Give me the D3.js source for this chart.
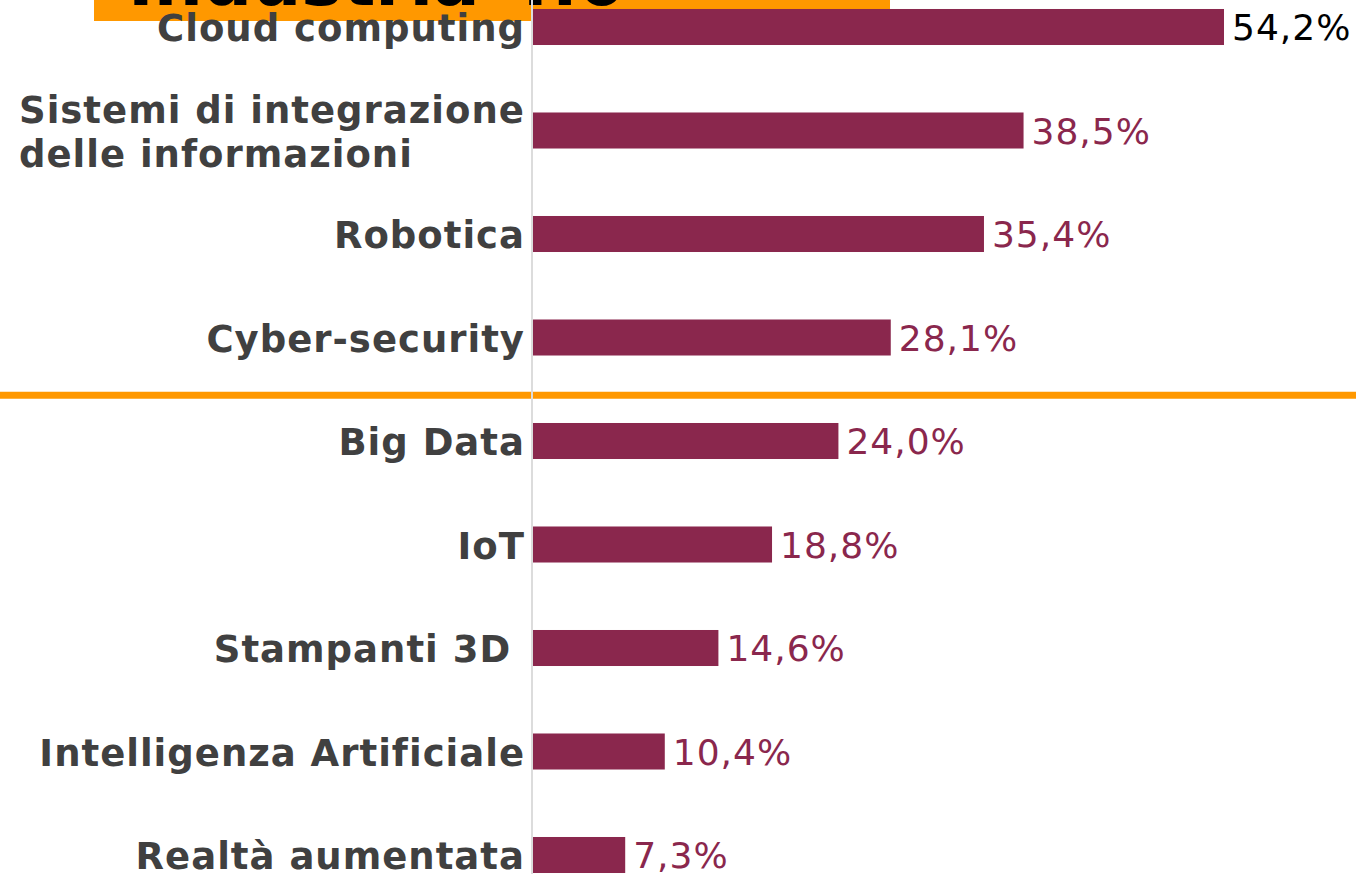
<!DOCTYPE html>
<html>
<head>
<meta charset="utf-8">
<script src="https://cdn.jsdelivr.net/npm/d3@7"></script>
<style>
html, body { margin: 0; padding: 0; background: #fff; overflow: hidden; }
svg { display: block; }
</style>
</head>
<body>
<svg id="chart" width="1356" height="874"></svg>
<script>
// Data
const categories = [
  "Cloud computing",
  "Sistemi di integrazione\ndelle informazioni",
  "Robotica",
  "Cyber-security",
  "Big Data",
  "IoT",
  "Stampanti 3D ",
  "Intelligenza Artificiale",
  "Realtà aumentata"
];
const values = [54.2, 38.5, 35.4, 28.1, 24.0, 18.8, 14.6, 10.4, 7.3];
const valueLabels = ["54,2%", "38,5%", "35,4%", "28,1%", "24,0%", "18,8%", "14,6%", "10,4%", "7,3%"];
const titleText = "Industria 4.0";

const W = 1356, H = 874;
const svg = d3.select("#chart");

const x = d3.scaleLinear().domain([0, 54.2]).range([532, 1224]);
const y = d3.scaleBand().domain(categories)
  .range([-24.75, 906.75]).paddingInner(0.652).paddingOuter(0.326);

// Title box (mostly cropped off the top)
svg.append("rect").attr("x", 94).attr("y", -60).attr("width", 796).attr("height", 81)
  .attr("fill", "#ff9800");
svg.append("text").attr("x", 128).attr("y", 5)
  .attr("font-family", "DejaVu Sans").attr("font-weight", "bold")
  .attr("font-size", 69).attr("fill", "#000").text(titleText);

// Separator line between Cyber-security and Big Data
const sepY = (y(categories[3]) + y.bandwidth() + y(categories[4])) / 2 + 6;
svg.append("line").attr("x1", 0).attr("x2", W).attr("y1", sepY).attr("y2", sepY)
  .attr("stroke", "#ff9800").attr("stroke-width", 7);

// Bars
svg.append("g").selectAll("rect").data(categories).join("rect")
  .attr("x", x(0))
  .attr("y", d => y(d))
  .attr("width", (d, i) => x(values[i]) - x(0))
  .attr("height", y.bandwidth())
  .attr("fill", "#8a274d");

// Axis line
svg.append("line").attr("x1", x(0)).attr("x2", x(0)).attr("y1", 0).attr("y2", H)
  .attr("stroke", "#dcdcdc").attr("stroke-width", 2);

// Category labels
const lab = svg.append("g")
  .attr("font-family", "DejaVu Sans").attr("font-weight", "bold")
  .attr("font-size", 37).attr("fill", "#404040").attr("letter-spacing", 1);
categories.forEach((c, i) => {
  const cy = y(c) + y.bandwidth() / 2;
  const lines = c.split("\n");
  if (lines.length === 1) {
    lab.append("text").attr("x", 525).attr("y", cy + 14)
      .attr("text-anchor", "end").style("white-space", "pre").text(c);
  } else {
    lines.forEach((l, j) => {
      lab.append("text").attr("x", 19).attr("y", cy - 8 + j * 44)
        .style("white-space", "pre").text(l);
    });
  }
});

// Value labels
svg.append("g").selectAll("text").data(categories).join("text")
  .attr("x", (d, i) => x(values[i]) + 8)
  .attr("y", d => y(d) + y.bandwidth() / 2 + 13)
  .attr("font-family", "DejaVu Sans").attr("font-size", 36).attr("letter-spacing", 1)
  .attr("fill", (d, i) => i === 0 ? "#000" : "#8a274d")
  .text((d, i) => valueLabels[i]);
</script>
</body>
</html>
